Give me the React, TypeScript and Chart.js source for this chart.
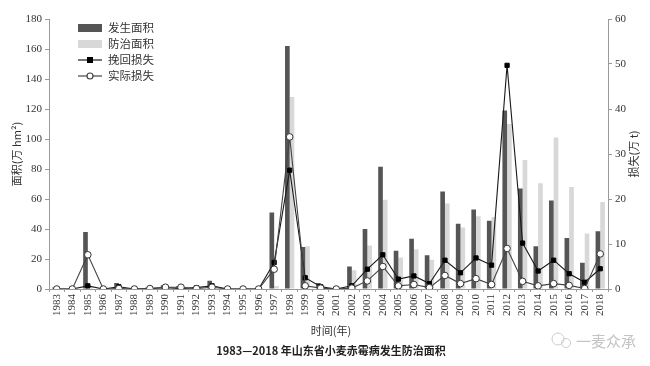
import React, { useEffect, useRef } from "react";
import { Chart, registerables } from "chart.js";

Chart.register(...registerables);

const years = [
  "1983", "1984", "1985", "1986", "1987", "1988", "1989", "1990", "1991", "1992",
  "1993", "1994", "1995", "1996", "1997", "1998", "1999", "2000", "2001", "2002",
  "2003", "2004", "2005", "2006", "2007", "2008", "2009", "2010", "2011", "2012",
  "2013", "2014", "2015", "2016", "2017", "2018",
];

// 发生面积 (万 hm²)
const occurArea = [
  1, 0, 38, 0, 4, 0, 1, 2.5, 2, 1,
  5.5, 0, 0, 0, 51, 162, 28, 4, 0, 15,
  40, 81.5, 25.5, 33.5, 22.5, 65, 43.5, 53, 45.5, 119,
  67, 28.5, 59, 34, 17.5, 38.5,
];

// 防治面积 (万 hm²)
const controlArea = [
  0, 0, 1.5, 0, 1, 0, 0.5, 1, 1.5, 0.5,
  2, 0, 0, 0, 2, 128, 28.5, 2.5, 0, 12.5,
  29, 59.5, 21, 26.5, 19.5, 57, 41, 48.5, 48, 110,
  86, 70.5, 101, 68, 37, 58,
];

// 挽回损失 (万 t)
const savedLoss = [
  0, 0, 0.7, 0, 0.5, 0, 0.1, 0.3, 0.1, 0.3,
  0.7, 0, 0, 0, 5.9, 26.4, 2.5, 0.5, 0, 0.7,
  4.4, 7.6, 2.2, 2.9, 1.2, 6.4, 3.6, 6.9, 5.3, 49.7,
  10.2, 4.0, 6.4, 3.4, 1.5, 4.5,
];

// 实际损失 (万 t)
const actualLoss = [
  0, 0, 7.6, 0, 0.1, 0, 0.1, 0.4, 0.4, 0.1,
  0.4, 0, 0, 0, 4.4, 33.8, 0.7, 0.2, 0, 0.2,
  1.8, 5.0, 0.7, 1.0, 0.3, 3.0, 1.2, 2.3, 1.0, 9.0,
  1.7, 0.7, 1.2, 0.8, 0.1, 7.8,
];

const leftTicks = { min: 0, max: 180, step: 20 };
const rightTicks = { min: 0, max: 60, step: 10 };

const SERIF = "'Liberation Serif', 'Noto Sans CJK SC', serif";
const CJK = "'Noto Sans CJK SC', 'Liberation Serif', sans-serif";

const DARK = "#555555";
const LIGHT = "#d8d8d8";
const AXIS = "#9a9a9a";
const TEXT = "#333333";

const extrasPlugin = {
  id: "extras",
  afterDraw(chart: any) {
    const ctx = chart.ctx as CanvasRenderingContext2D;
    const area = chart.chartArea;
    ctx.save();

    // legend
    const lx = area.left + 29;
    const ly = area.top + 9;
    const gap = 16;
    chart.data.datasets.forEach((ds: any, i: number) => {
      const y = ly + i * gap;
      if (ds.type === "bar" || !ds.type) {
        ctx.fillStyle = ds.backgroundColor;
        ctx.fillRect(lx, y - 4, 24, 8);
      } else {
        ctx.strokeStyle = ds.borderColor;
        ctx.lineWidth = 1.2;
        ctx.beginPath();
        ctx.moveTo(lx, y);
        ctx.lineTo(lx + 24, y);
        ctx.stroke();
        if (ds.pointStyle === "rect") {
          ctx.fillStyle = ds.pointBackgroundColor;
          ctx.fillRect(lx + 12 - 3, y - 3, 6, 6);
        } else {
          ctx.fillStyle = "#ffffff";
          ctx.beginPath();
          ctx.arc(lx + 12, y, 3, 0, Math.PI * 2);
          ctx.fill();
          ctx.stroke();
        }
      }
      ctx.fillStyle = TEXT;
      ctx.font = `11.5px ${CJK}`;
      ctx.textAlign = "left";
      ctx.textBaseline = "middle";
      ctx.fillText(ds.label, lx + 30, y);
    });

    // left axis title
    ctx.fillStyle = TEXT;
    ctx.font = `11px ${CJK}`;
    ctx.textAlign = "center";
    ctx.textBaseline = "middle";
    ctx.save();
    ctx.translate(17, (area.top + area.bottom) / 2);
    ctx.rotate(-Math.PI / 2);
    ctx.fillText("面积(万 hm²)", 0, 0);
    ctx.restore();

    // right axis title
    ctx.save();
    ctx.translate(634, (area.top + area.bottom) / 2);
    ctx.rotate(-Math.PI / 2);
    ctx.fillText("损失(万 t)", 0, 0);
    ctx.restore();

    // x axis title
    ctx.fillText("时间(年)", 331, 331);

    // chart caption
    ctx.font = `bold 11px ${CJK}`;
    ctx.fillStyle = "#222222";
    ctx.fillText("1983—2018 年山东省小麦赤霉病发生防治面积", 331, 351);

    // watermark
    ctx.font = `15px ${CJK}`;
    ctx.fillStyle = "#c4c4c4";
    ctx.textAlign = "left";
    ctx.fillText("一麦众承", 576, 341);
    ctx.strokeStyle = "#cccccc";
    ctx.lineWidth = 1;
    ctx.beginPath();
    ctx.arc(558, 339, 6, 0, Math.PI * 2);
    ctx.stroke();
    ctx.beginPath();
    ctx.arc(566, 343, 4.5, 0, Math.PI * 2);
    ctx.stroke();

    ctx.restore();
  },
};

export default function App() {
  const ref = useRef<HTMLCanvasElement | null>(null);

  useEffect(() => {
    document.body.style.margin = "0";
    const canvas = ref.current;
    if (!canvas) return;
    const chart = new Chart(canvas, {
      type: "bar",
      data: {
        labels: years,
        datasets: [
          {
            type: "bar",
            label: "发生面积",
            data: occurArea,
            backgroundColor: DARK,
            yAxisID: "y",
            order: 3,
            categoryPercentage: 0.6,
            barPercentage: 1.0,
          },
          {
            type: "bar",
            label: "防治面积",
            data: controlArea,
            backgroundColor: LIGHT,
            yAxisID: "y",
            order: 4,
            categoryPercentage: 0.6,
            barPercentage: 1.0,
          },
          {
            type: "line",
            label: "挽回损失",
            data: savedLoss,
            yAxisID: "y1",
            borderColor: "#1a1a1a",
            borderWidth: 1.1,
            pointStyle: "rect",
            pointRadius: 3,
            pointBackgroundColor: "#000000",
            pointBorderColor: "#000000",
            pointBorderWidth: 1,
            tension: 0,
            order: 2,
          },
          {
            type: "line",
            label: "实际损失",
            data: actualLoss,
            yAxisID: "y1",
            borderColor: "#444444",
            borderWidth: 1.1,
            pointStyle: "circle",
            pointRadius: 3.3,
            pointBackgroundColor: "#ffffff",
            pointBorderColor: "#333333",
            pointBorderWidth: 1,
            tension: 0,
            order: 1,
          },
        ] as any,
      },
      options: {
        responsive: false,
        animation: false,
        devicePixelRatio: 1,
        layout: { padding: { top: 19, left: 0, right: 0, bottom: 0 } },
        plugins: {
          legend: { display: false },
          title: { display: false },
          tooltip: { enabled: false },
        },
        scales: {
          x: {
            offset: true,
            grid: {
              display: true,
              drawOnChartArea: false,
              drawTicks: true,
              tickLength: 3,
              color: AXIS,
            },
            border: { color: AXIS, width: 1 },
            ticks: {
              autoSkip: false,
              maxRotation: 90,
              minRotation: 90,
              padding: 2,
              color: TEXT,
              font: { family: SERIF, size: 11 },
            },
            afterFit: (s: any) => {
              s.height = 77;
            },
          },
          y: {
            position: "left",
            min: leftTicks.min,
            max: leftTicks.max,
            ticks: {
              stepSize: leftTicks.step,
              padding: 3,
              color: TEXT,
              font: { family: SERIF, size: 11 },
            },
            grid: { drawOnChartArea: false, tickLength: 4, color: AXIS },
            border: { color: AXIS, width: 1 },
            afterFit: (s: any) => {
              s.width = 49;
            },
          },
          y1: {
            position: "right",
            min: rightTicks.min,
            max: rightTicks.max,
            ticks: {
              stepSize: rightTicks.step,
              padding: 3,
              color: TEXT,
              font: { family: SERIF, size: 11 },
            },
            grid: { drawOnChartArea: false, tickLength: 4, color: AXIS },
            border: { color: AXIS, width: 1 },
            afterFit: (s: any) => {
              s.width = 42;
            },
          },
        },
      } as any,
      plugins: [extrasPlugin],
    });
    return () => chart.destroy();
  }, []);

  return (
    <div style={{ width: 650, height: 366, background: "#ffffff" }}>
      <canvas ref={ref} width={650} height={366} style={{ display: "block" }} />
    </div>
  );
}
